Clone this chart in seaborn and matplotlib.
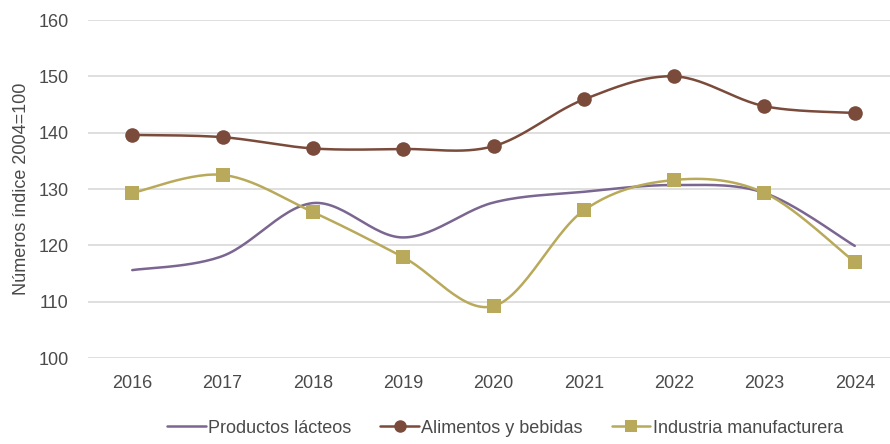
import numpy as np
import pandas as pd
import matplotlib
matplotlib.use("Agg")
import matplotlib.pyplot as plt
import seaborn as sns
from matplotlib import font_manager as fm
from matplotlib.lines import Line2D

years = [2016, 2017, 2018, 2019, 2020, 2021, 2022, 2023, 2024]
lacteos = [115.6, 118.1, 127.5, 121.4, 127.6, 129.5, 130.7, 129.3, 119.9]
alimentos = [139.6, 139.2, 137.2, 137.1, 137.6, 145.9, 150.0, 144.7, 143.5]
industria = [129.3, 132.5, 125.9, 117.9, 109.2, 126.2, 131.6, 129.3, 117.0]
series_names = ["Productos lácteos", "Alimentos y bebidas", "Industria manufacturera"]
y_ticks = [100, 110, 120, 130, 140, 150, 160]
y_label = "Números índice 2004=100"

sns.set_theme(style="white")
avail = {f.name for f in fm.fontManager.ttflist}
fam = "Liberation Sans Narrow" if "Liberation Sans Narrow" in avail else "Liberation Sans"
plt.rcParams["font.family"] = [fam, "DejaVu Sans"]
txt = "#4A4A4A"

colors = ["#7A6691", "#7A4A3B", "#B8AA5A"]
markers = [None, "o", "s"]


def smooth(x, y, n=30):
    x = np.asarray(x, float); y = np.asarray(y, float)
    px = np.concatenate([[x[0]], x, [x[-1]]])
    py = np.concatenate([[y[0]], y, [y[-1]]])
    xs, ys = [], []
    for i in range(1, len(px) - 2):
        p0, p1, p2, p3 = (np.array([px[j], py[j]]) for j in (i - 1, i, i + 1, i + 2))
        c1 = p1 + (p2 - p0) / 6
        c2 = p2 - (p3 - p1) / 6
        t = np.linspace(0, 1, n)[:, None]
        pts = ((1 - t) ** 3) * p1 + 3 * ((1 - t) ** 2) * t * c1 + 3 * (1 - t) * t ** 2 * c2 + t ** 3 * p2
        xs.append(pts[:, 0]); ys.append(pts[:, 1])
    return np.concatenate(xs), np.concatenate(ys)


fig = plt.figure(figsize=(8.9, 4.44), dpi=100)
ax = fig.add_axes([88 / 890, 1 - 358 / 444, 1 - 88 / 890, (358 - 20) / 444])

data = [lacteos, alimentos, industria]
for name, vals, c, m in zip(series_names, data, colors, markers):
    sx, sy = smooth(years, vals)
    ax.plot(sx, sy, color=c, lw=1.8, zorder=2)
    if m is not None:
        df = pd.DataFrame({"year": years, "val": vals})
        sns.scatterplot(data=df, x="year", y="val", marker=m, color=c, s=110,
                        edgecolor=c, linewidth=0, ax=ax, zorder=3)

ax.set_xlim(2015.51, 2024.39)
ax.set_ylim(100, 160)
ax.set_yticks(y_ticks)
ax.set_xticks(years)
ax.set_xticklabels([str(y) for y in years])
ax.yaxis.grid(True, color="#D9D9D9", lw=1.2)
ax.xaxis.grid(False)
for s in ax.spines.values():
    s.set_visible(False)
ax.tick_params(axis="both", length=0, labelsize=13, colors=txt)
ax.tick_params(axis="x", pad=12)
ax.tick_params(axis="y", pad=14)
ax.set_xlabel("")
ax.set_ylabel(y_label, fontsize=13, color=txt, labelpad=6)

handles = [Line2D([], [], color=c, lw=1.8, marker=m, markersize=9, markeredgewidth=0)
           for c, m in zip(colors, markers)]
fig.legend(handles, series_names, loc="center", bbox_to_anchor=(505 / 890, 1 - 428 / 444),
           ncol=3, frameon=False, fontsize=13, labelcolor=txt, handlelength=2.15,
           handletextpad=0.12, columnspacing=1.6)

fig.savefig("out.png", dpi=100)
